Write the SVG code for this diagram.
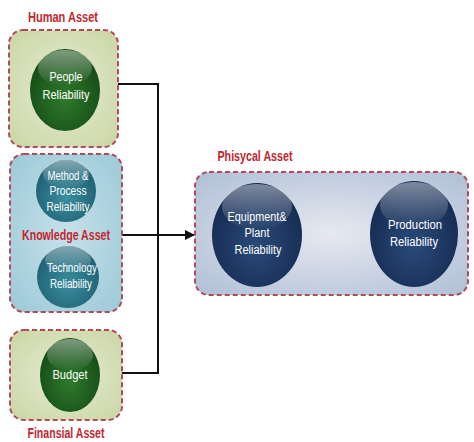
<svg xmlns="http://www.w3.org/2000/svg" width="474" height="442" viewBox="0 0 474 442">
  <style>
    .group-box { stroke: #b24a5a; stroke-width: 2; stroke-dasharray: 5 3; }
    .label { font-family: "Liberation Sans", Arial, sans-serif; font-weight: bold; font-size: 14px; fill: #c3262f; text-anchor: middle; }
    .inner { font-family: "Liberation Sans", Arial, sans-serif; font-size: 12.5px; fill: #ffffff; text-anchor: middle; }
    .conn { fill: none; stroke: #111111; stroke-width: 2; }
    .shine { fill: url(#shine); }
  </style>
  <defs>
    <radialGradient id="greenBox" cx="0.5" cy="0.5" r="0.7">
      <stop offset="0" stop-color="#e6ecd2"/>
      <stop offset="1" stop-color="#c9d6a4"/>
    </radialGradient>
    <radialGradient id="blueBox" cx="0.5" cy="0.5" r="0.7">
      <stop offset="0" stop-color="#c6e1ea"/>
      <stop offset="1" stop-color="#9cc9d8"/>
    </radialGradient>
    <radialGradient id="navyBox" cx="0.5" cy="0.5" r="0.65">
      <stop offset="0" stop-color="#e6e9f0"/>
      <stop offset="1" stop-color="#b4c2d8"/>
    </radialGradient>
    <radialGradient id="greenBall" cx="0.5" cy="0.6" r="0.6">
      <stop offset="0" stop-color="#2f7a2c"/>
      <stop offset="1" stop-color="#144a16"/>
    </radialGradient>
    <radialGradient id="tealBall" cx="0.5" cy="0.6" r="0.6">
      <stop offset="0" stop-color="#3a8fa0"/>
      <stop offset="1" stop-color="#1d5e70"/>
    </radialGradient>
    <radialGradient id="navyBall" cx="0.5" cy="0.6" r="0.6">
      <stop offset="0" stop-color="#2a4a7a"/>
      <stop offset="1" stop-color="#152a50"/>
    </radialGradient>
    <linearGradient id="shine" x1="0" y1="0" x2="0" y2="1">
      <stop offset="0" stop-color="#ffffff" stop-opacity="0.45"/>
      <stop offset="1" stop-color="#ffffff" stop-opacity="0"/>
    </linearGradient>
    <marker id="arrow" viewBox="0 0 10 10" refX="9" refY="5" markerWidth="5" markerHeight="5" orient="auto">
      <path d="M0,0 L10,5 L0,10 z" fill="#111111"/>
    </marker>
  </defs>

  <!-- connectors -->
  <g id="connectors">
    <polyline class="conn" points="118,84 158,84 158,373 122,373"/>
    <line class="conn" x1="122" y1="235" x2="194" y2="235" marker-end="url(#arrow)"/>
    <line class="conn" x1="302" y1="234" x2="369" y2="234" marker-end="url(#arrow)"/>
  </g>

  <!-- human asset -->
  <g id="human-asset">
    <rect class="group-box" x="9" y="30" width="109" height="117" rx="14" fill="url(#greenBox)"/>
    <text class="label" x="63" y="22" textLength="70" lengthAdjust="spacingAndGlyphs">Human Asset</text>
    <g id="people-reliability">
      <ellipse cx="65" cy="90" rx="35" ry="41" fill="url(#greenBall)"/>
      <ellipse class="shine" cx="65" cy="68" rx="27" ry="18"/>
      <text class="inner" x="66" y="81" textLength="33" lengthAdjust="spacingAndGlyphs">People</text>
      <text class="inner" x="66" y="99" textLength="47" lengthAdjust="spacingAndGlyphs">Reliability</text>
    </g>
  </g>

  <!-- knowledge asset -->
  <g id="knowledge-asset">
    <rect class="group-box" x="10" y="154" width="112" height="158" rx="14" fill="url(#blueBox)"/>
    <g id="method-process-reliability">
      <ellipse cx="66" cy="191" rx="30" ry="31" fill="url(#tealBall)"/>
      <ellipse class="shine" cx="66" cy="174" rx="23" ry="14"/>
      <text class="inner" x="68" y="180" textLength="41" lengthAdjust="spacingAndGlyphs">Method &amp;</text>
      <text class="inner" x="68" y="195" textLength="37" lengthAdjust="spacingAndGlyphs">Process</text>
      <text class="inner" x="68" y="211" textLength="43" lengthAdjust="spacingAndGlyphs">Reliability</text>
    </g>
    <text class="label" x="66" y="240" textLength="88" lengthAdjust="spacingAndGlyphs">Knowledge Asset</text>
    <g id="technology-reliability">
      <ellipse cx="68" cy="277" rx="31" ry="31" fill="url(#tealBall)"/>
      <ellipse class="shine" cx="68" cy="260" rx="23" ry="14"/>
      <text class="inner" x="72" y="272" textLength="50" lengthAdjust="spacingAndGlyphs">Technology</text>
      <text class="inner" x="71" y="288" textLength="42" lengthAdjust="spacingAndGlyphs">Reliability</text>
    </g>
  </g>

  <!-- financial asset -->
  <g id="financial-asset">
    <rect class="group-box" x="10" y="330" width="112" height="90" rx="14" fill="url(#greenBox)"/>
    <g id="budget">
      <ellipse cx="70" cy="375" rx="30" ry="37" fill="url(#greenBall)"/>
      <ellipse class="shine" cx="70" cy="355" rx="23" ry="16"/>
      <text class="inner" x="70" y="379" textLength="35" lengthAdjust="spacingAndGlyphs">Budget</text>
    </g>
    <text class="label" x="66" y="438" textLength="77" lengthAdjust="spacingAndGlyphs">Finansial Asset</text>
  </g>

  <!-- physical asset -->
  <g id="physical-asset">
    <rect class="group-box" x="195" y="172" width="273" height="123" rx="14" fill="url(#navyBox)"/>
    <text class="label" x="255" y="161" textLength="75" lengthAdjust="spacingAndGlyphs">Phisycal Asset</text>
    <g id="equipment-plant-reliability">
      <ellipse cx="257" cy="235" rx="45" ry="52" fill="url(#navyBall)"/>
      <ellipse class="shine" cx="257" cy="207" rx="35" ry="23"/>
      <text class="inner" x="257" y="221" textLength="59" lengthAdjust="spacingAndGlyphs">Equipment&amp;</text>
      <text class="inner" x="257" y="237" textLength="25" lengthAdjust="spacingAndGlyphs">Plant</text>
      <text class="inner" x="258" y="254" textLength="47" lengthAdjust="spacingAndGlyphs">Reliability</text>
    </g>
    <g id="production-reliability">
      <ellipse cx="414" cy="234" rx="44" ry="53" fill="url(#navyBall)"/>
      <ellipse class="shine" cx="414" cy="205" rx="34" ry="23"/>
      <text class="inner" x="415" y="229" textLength="54" lengthAdjust="spacingAndGlyphs">Production</text>
      <text class="inner" x="414" y="246" textLength="48" lengthAdjust="spacingAndGlyphs">Reliability</text>
    </g>
  </g>
</svg>
